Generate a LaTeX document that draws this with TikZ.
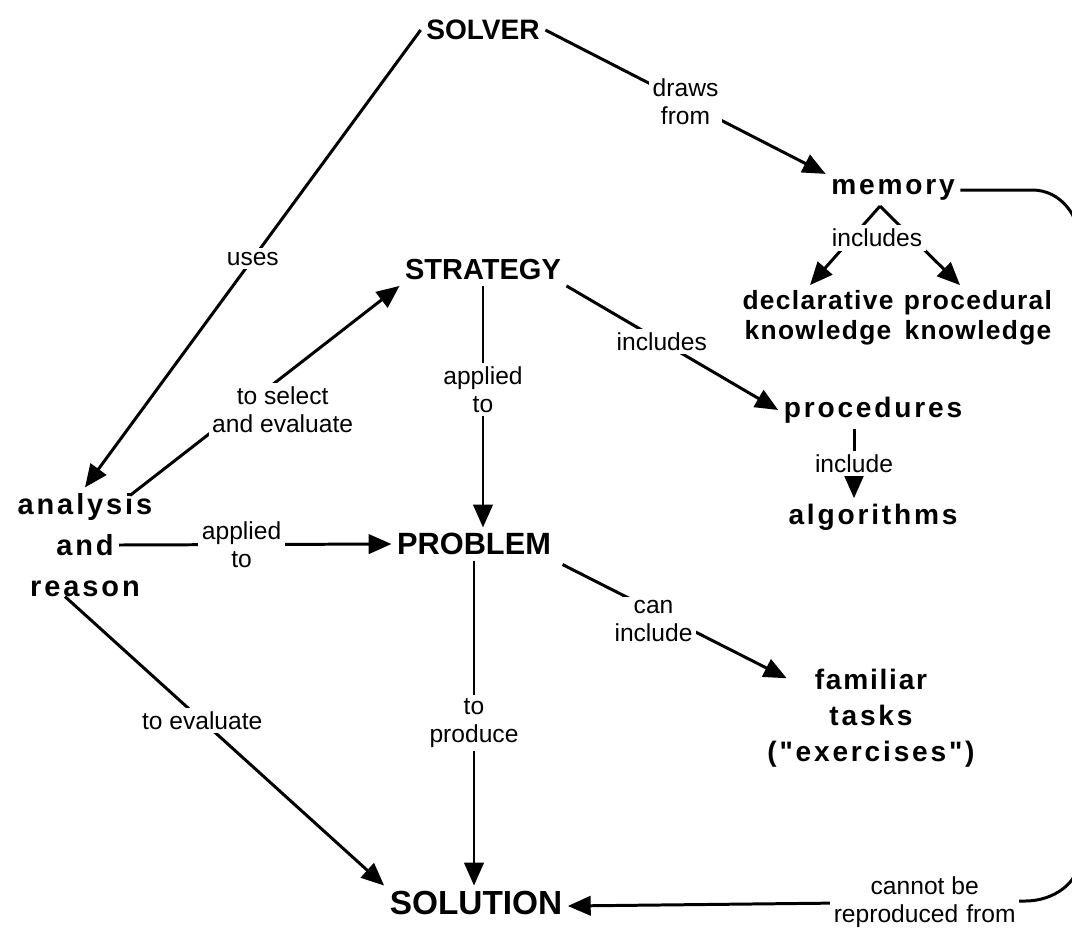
\documentclass[tikz,border=0pt]{standalone}
\usepackage{fontspec}
\setmainfont{Liberation Sans}
\newfontfamily\widefont[LetterSpace=10]{Liberation Sans}
\newfontfamily\halfwidefont[LetterSpace=5]{Liberation Sans}
\usetikzlibrary{arrows.meta, calc}

\begin{document}
\begin{tikzpicture}[x=0.02cm, y=-0.02cm,
    arr/.style={-{Triangle[length=13pt,width=11pt]}, line width=1.7pt},
    lbl/.style={fill=white, inner sep=2pt, align=center, font=\fontsize{14}{16}\selectfont},
    caps/.style={font=\bfseries\fontsize{16}{19}\selectfont, inner sep=3pt},
    spaced/.style={font=\widefont\bfseries\fontsize{16}{19}\selectfont, inner sep=3pt, align=center}]
    \useasboundingbox (0, 0) rectangle (1072, 934);
    \node[caps] (solver) at (483, 30) {SOLVER};
    \node[caps, font=\bfseries\fontsize{16.5}{19}\selectfont] (strategy) at (483, 270) {STRATEGY};
    \node[caps, font=\bfseries\fontsize{17.5}{21}\selectfont] (problem) at (474, 544) {PROBLEM};
    \node[caps, font=\bfseries\fontsize{19}{23}\selectfont] (solution) at (476, 903) {SOLUTION};
    \node[spaced] (memory) at (893, 190) {memory};
    \node[spaced, font=\halfwidefont\bfseries\fontsize{15}{17}\selectfont] (decl) at (818, 318) {declarative\\knowledge};
    \node[spaced, font=\halfwidefont\bfseries\fontsize{15}{17}\selectfont] (proc) at (978, 318) {procedural\\knowledge};
    \node[spaced] (procedures) at (873, 410) {procedures};
    \node[spaced] (algorithms) at (873, 517) {algorithms};
    \node[spaced, font=\widefont\bfseries\fontsize{16.5}{23.5}\selectfont] (analysis) at (85, 545) {analysis\\and\\reason};
    \node[spaced, font=\widefont\bfseries\fontsize{16}{20.5}\selectfont] (familiar) at (871, 718) {f\kern1pt a\kern1pt m\kern1pt i\kern1pt l\kern1pt i\kern1pt a\kern1pt r\\tasks\\("exercises")};

    \draw[arr] (solver.east) -- node[lbl] {draws\\from} (memory.north west);
    \draw[arr] (solver.west) -- node[lbl] {uses} (analysis.north);
    \draw[arr] ($(memory.south)+(-13,0)$) -- ($(decl.north)+(-8,0)$);
    \draw[arr] ($(memory.south)+(-13,0)$) -- ($(proc.north)+(-18,0)$);
    \node[lbl] (memincl) at (877, 238) {includes};
    \draw[arr] ($(analysis.north east)+(-28,8)$) -- node[lbl, pos=0.41, xshift=24pt] {to select\\and evaluate} (strategy.south west);
    \draw[arr] ($(analysis.center)+(34,0)$) -- node[lbl, pos=0.45] {applied\\to} (problem.west);
    \draw[arr] ($(analysis.south)+(-20,-6)$) -- node[lbl, pos=0.43] {to evaluate} (solution.north west);
    \draw[arr] (strategy.south) -- node[lbl, pos=0.43] {applied\\to} (strategy.south |- problem.north);
    \draw[arr] (strategy.south east) -- node[lbl, pos=0.45] {includes} (procedures.west);
    \draw[arr] ($(procedures.south)+(-19,0)$) -- node[lbl] {include} ($(algorithms.north)+(-19,0)$);
    \draw[arr] ($(problem.south east)+(6,4)$) -- node[lbl, pos=0.5, xshift=-12pt] {can\\include} ($(familiar.north west)+(25,15)$);
    \draw[arr] (problem.south) -- node[lbl] {to\\produce} (problem.south |- solution.north);
    \draw[arr] (memory.east) -- ++(72, 0) to[out=0, in=90] ++(48, 55) -- ++(0, 610)
        to[out=-90, in=0] ++(-55, 46) -- node[lbl, pos=0.22] {cannot be\\reproduced\,\,from} (solution.east |- 0, 906);
\end{tikzpicture}
\end{document}
